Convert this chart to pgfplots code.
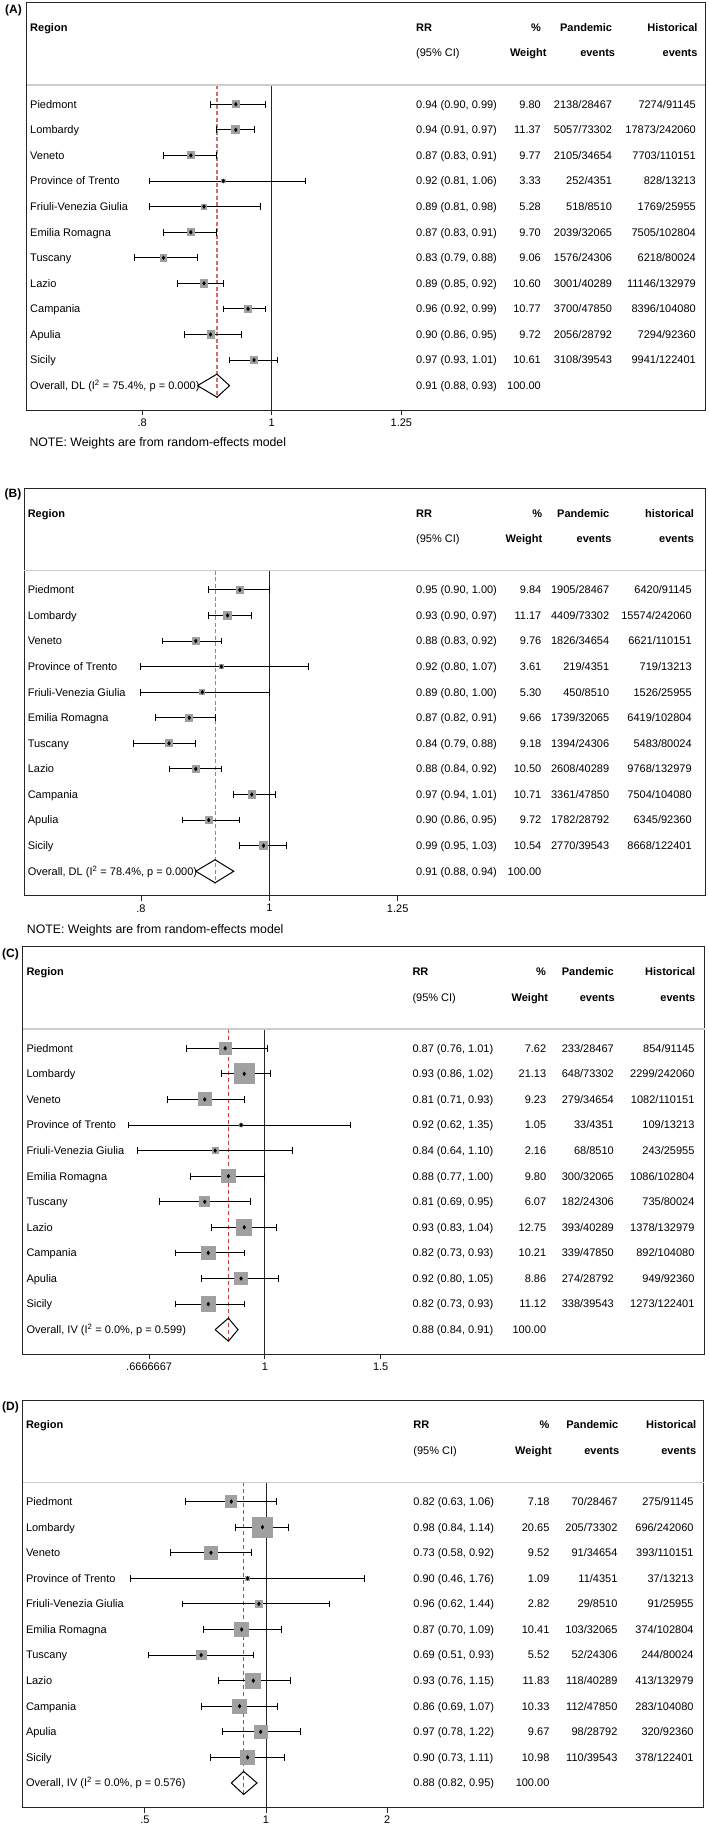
\documentclass[border=0pt]{standalone}
\usepackage{fontspec}
\setmainfont{Liberation Sans}
\usepackage{pgfplots}
\usepackage{pgfplotstable}
\pgfplotsset{compat=1.18}

\definecolor{refred}{RGB}{205,110,110}
\definecolor{refred2}{RGB}{205,60,60}
\definecolor{boxgray}{RGB}{160,160,160}
\newcommand{\tf}{\fontsize{11}{13}\selectfont}

% one table per panel: row, RR, 95% CI, weight, pandemic and historical events
\pgfplotstableread[col sep=semicolon]{
row;region;rr;lo;hi;ci;w;pan;his
1;Piedmont;0.94;0.90;0.99;0.94 (0.90, 0.99);9.80;2138/28467;7274/91145
2;Lombardy;0.94;0.91;0.97;0.94 (0.91, 0.97);11.37;5057/73302;17873/242060
3;Veneto;0.87;0.83;0.91;0.87 (0.83, 0.91);9.77;2105/34654;7703/110151
4;Province of Trento;0.92;0.81;1.06;0.92 (0.81, 1.06);3.33;252/4351;828/13213
5;Friuli-Venezia Giulia;0.89;0.81;0.98;0.89 (0.81, 0.98);5.28;518/8510;1769/25955
6;Emilia Romagna;0.87;0.83;0.91;0.87 (0.83, 0.91);9.70;2039/32065;7505/102804
7;Tuscany;0.83;0.79;0.88;0.83 (0.79, 0.88);9.06;1576/24306;6218/80024
8;Lazio;0.89;0.85;0.92;0.89 (0.85, 0.92);10.60;3001/40289;11146/132979
9;Campania;0.96;0.92;0.99;0.96 (0.92, 0.99);10.77;3700/47850;8396/104080
10;Apulia;0.90;0.86;0.95;0.90 (0.86, 0.95);9.72;2056/28792;7294/92360
11;Sicily;0.97;0.93;1.01;0.97 (0.93, 1.01);10.61;3108/39543;9941/122401
}\tabA

\pgfplotstableread[col sep=semicolon]{
row;region;rr;lo;hi;ci;w;pan;his
1;Piedmont;0.95;0.90;1.00;0.95 (0.90, 1.00);9.84;1905/28467;6420/91145
2;Lombardy;0.93;0.90;0.97;0.93 (0.90, 0.97);11.17;4409/73302;15574/242060
3;Veneto;0.88;0.83;0.92;0.88 (0.83, 0.92);9.76;1826/34654;6621/110151
4;Province of Trento;0.92;0.80;1.07;0.92 (0.80, 1.07);3.61;219/4351;719/13213
5;Friuli-Venezia Giulia;0.89;0.80;1.00;0.89 (0.80, 1.00);5.30;450/8510;1526/25955
6;Emilia Romagna;0.87;0.82;0.91;0.87 (0.82, 0.91);9.66;1739/32065;6419/102804
7;Tuscany;0.84;0.79;0.88;0.84 (0.79, 0.88);9.18;1394/24306;5483/80024
8;Lazio;0.88;0.84;0.92;0.88 (0.84, 0.92);10.50;2608/40289;9768/132979
9;Campania;0.97;0.94;1.01;0.97 (0.94, 1.01);10.71;3361/47850;7504/104080
10;Apulia;0.90;0.86;0.95;0.90 (0.86, 0.95);9.72;1782/28792;6345/92360
11;Sicily;0.99;0.95;1.03;0.99 (0.95, 1.03);10.54;2770/39543;8668/122401
}\tabB

\pgfplotstableread[col sep=semicolon]{
row;region;rr;lo;hi;ci;w;pan;his
1;Piedmont;0.87;0.76;1.01;0.87 (0.76, 1.01);7.62;233/28467;854/91145
2;Lombardy;0.93;0.86;1.02;0.93 (0.86, 1.02);21.13;648/73302;2299/242060
3;Veneto;0.81;0.71;0.93;0.81 (0.71, 0.93);9.23;279/34654;1082/110151
4;Province of Trento;0.92;0.62;1.35;0.92 (0.62, 1.35);1.05;33/4351;109/13213
5;Friuli-Venezia Giulia;0.84;0.64;1.10;0.84 (0.64, 1.10);2.16;68/8510;243/25955
6;Emilia Romagna;0.88;0.77;1.00;0.88 (0.77, 1.00);9.80;300/32065;1086/102804
7;Tuscany;0.81;0.69;0.95;0.81 (0.69, 0.95);6.07;182/24306;735/80024
8;Lazio;0.93;0.83;1.04;0.93 (0.83, 1.04);12.75;393/40289;1378/132979
9;Campania;0.82;0.73;0.93;0.82 (0.73, 0.93);10.21;339/47850;892/104080
10;Apulia;0.92;0.80;1.05;0.92 (0.80, 1.05);8.86;274/28792;949/92360
11;Sicily;0.82;0.73;0.93;0.82 (0.73, 0.93);11.12;338/39543;1273/122401
}\tabC

\pgfplotstableread[col sep=semicolon]{
row;region;rr;lo;hi;ci;w;pan;his
1;Piedmont;0.82;0.63;1.06;0.82 (0.63, 1.06);7.18;70/28467;275/91145
2;Lombardy;0.98;0.84;1.14;0.98 (0.84, 1.14);20.65;205/73302;696/242060
3;Veneto;0.73;0.58;0.92;0.73 (0.58, 0.92);9.52;91/34654;393/110151
4;Province of Trento;0.90;0.46;1.76;0.90 (0.46, 1.76);1.09;11/4351;37/13213
5;Friuli-Venezia Giulia;0.96;0.62;1.44;0.96 (0.62, 1.44);2.82;29/8510;91/25955
6;Emilia Romagna;0.87;0.70;1.09;0.87 (0.70, 1.09);10.41;103/32065;374/102804
7;Tuscany;0.69;0.51;0.93;0.69 (0.51, 0.93);5.52;52/24306;244/80024
8;Lazio;0.93;0.76;1.15;0.93 (0.76, 1.15);11.83;118/40289;413/132979
9;Campania;0.86;0.69;1.07;0.86 (0.69, 1.07);10.33;112/47850;283/104080
10;Apulia;0.97;0.78;1.22;0.97 (0.78, 1.22);9.67;98/28792;320/92360
11;Sicily;0.90;0.73;1.11;0.90 (0.73, 1.11);10.98;110/39543;378/122401
}\tabD

\pgfplotsset{
  pframe/.style={scale only axis, anchor=north west, height=407.5pt,
    ymin=-2.97, ymax=12.96, y dir=reverse},
  dataax/.style={pframe, ytick=\empty, xtick pos=left,
    tick align=outside, major tick length=5pt,
    axis line style={line width=0.9pt, black!85},
    tick style={line width=0.9pt, black!85},
    xticklabel style={font=\tf}, clip=false},
  txtax/.style={pframe, hide axis, clip=false},
  txtcol/.style={draw=none, nodes near coords, point meta=explicit symbolic,
    every node near coord/.append style={anchor=base #1, yshift=-3.9pt,
      inner sep=0pt, font=\tf, text=black}},
  cibar/.style={only marks, mark=none, black,
    error bars/.cd, x dir=both, x explicit, error mark=none,
    error bar style={line width=1pt, black}},
  cicap/.style={only marks, mark=|, mark size=3.4pt, black,
    mark options={line width=1pt}},
  % weight boxes: side grows with the square root of the weight
  wbox/.style={draw=none, mark=none, point meta=y, nodes near coords={},
    visualization depends on={#1*sqrt(\thisrow{w}) \as \boxside},
    every node near coord/.append style={anchor=center, inner sep=0pt,
      outer sep=0pt, minimum size=\boxside, fill=boxgray, draw=none}},
  cdot/.style={only marks, mark=diamond*, mark size=1.9pt, black},
}
\tikzset{
  hl/.style={anchor=base west, yshift=-3.9pt, inner sep=0pt, font=\tf},
  hr/.style={anchor=base east, yshift=-3.9pt, inner sep=0pt, font=\tf},
  plab/.style={anchor=base west, inner sep=0pt, font=\fontsize{12}{14}\selectfont\bfseries},
  note/.style={anchor=base west, inner sep=0pt, font=\fontsize{12.3}{14}\selectfont},
}

\begin{document}
\begin{tikzpicture}
\useasboundingbox (0,0) rectangle (709pt,-1828pt);

% ---------------- (A) ----------------
\begin{axis}[xmode=log, dataax, at={(26.7pt,-2.7pt)}, width=678.3pt, xmin=0.6559, xmax=2.108,
  xtick={0.8,1,1.25}, xticklabels={.8,1,1.25}]
\addplot[black!85, line width=0.9pt] coordinates {(1,0.25) (1,12.96)};
\addplot[refred, line width=1.1pt, dash pattern=on 4pt off 2.5pt] coordinates {(0.91,0.25) (0.91,12.45)};
\addplot[cibar] table[x=rr, y=row, x error plus expr=\thisrow{hi}-\thisrow{rr}, x error minus expr=\thisrow{rr}-\thisrow{lo}] {\tabA};
\addplot[cicap] table[x=lo, y=row] {\tabA};
\addplot[cicap] table[x=hi, y=row] {\tabA};
\addplot[wbox=2.58] table[x=rr, y=row] {\tabA};
\addplot[cdot] table[x=rr, y=row] {\tabA};
\addplot[black, line width=1pt] coordinates {(0.88,12) (0.91,11.55) (0.93,12) (0.91,12.45) (0.88,12)};
\end{axis}
\begin{axis}[txtax, at={(26.7pt,-2.7pt)}, width=678.3pt, xmin=26.7, xmax=705]
\addplot[black!20, line width=1.4pt] coordinates {(26.7,0.25) (705,0.25)};
\addplot[txtcol=west] table[x expr=30, y=row, meta=region] {\tabA};
\addplot[txtcol=west] table[x expr=416, y=row, meta=ci] {\tabA};
\addplot[txtcol=east] table[x expr=541, y=row, meta=w] {\tabA};
\addplot[txtcol=east] table[x expr=612.3, y=row, meta=pan] {\tabA};
\addplot[txtcol=east] table[x expr=696, y=row, meta=his] {\tabA};
\node[hl] at (axis cs:30,-2) {\bfseries Region};
\node[hl] at (axis cs:416,-2) {\bfseries RR};
\node[hl] at (axis cs:416,-1) {(95\% CI)};
\node[hr] at (axis cs:541,-2) {\bfseries \%};
\node[hr] at (axis cs:546.7,-1) {\bfseries Weight};
\node[hr] at (axis cs:612.3,-2) {\bfseries Pandemic};
\node[hr] at (axis cs:615.3,-1) {\bfseries events};
\node[hr] at (axis cs:697.7,-2) {\bfseries Historical};
\node[hr] at (axis cs:697.7,-1) {\bfseries events};
\node[hl] at (axis cs:30,12) {Overall, DL (I\textsuperscript{2} = 75.4\%, p = 0.000)};
\node[hl] at (axis cs:416,12) {0.91 (0.88, 0.93)};
\node[hr] at (axis cs:541,12) {100.00};
\end{axis}
\node[plab] at (5pt,-13.3pt) {(A)};
\node[note] at (29.3pt,-446.7pt) {NOTE: Weights are from random-effects model};

% ---------------- (B) ----------------
\begin{axis}[xmode=log, dataax, at={(24pt,-488.3pt)}, width=681.4pt, xmin=0.6528, xmax=2.1345,
  xtick={0.8,1,1.25}, xticklabels={.8,1,1.25}]
\addplot[black!85, line width=0.9pt] coordinates {(1,0.25) (1,12.96)};
\addplot[refred, line width=1.1pt, dash pattern=on 4pt off 2.5pt] coordinates {(0.91,0.25) (0.91,12.45)};
\addplot[cibar] table[x=rr, y=row, x error plus expr=\thisrow{hi}-\thisrow{rr}, x error minus expr=\thisrow{rr}-\thisrow{lo}] {\tabB};
\addplot[cicap] table[x=lo, y=row] {\tabB};
\addplot[cicap] table[x=hi, y=row] {\tabB};
\addplot[wbox=2.58] table[x=rr, y=row] {\tabB};
\addplot[cdot] table[x=rr, y=row] {\tabB};
\addplot[black, line width=1pt] coordinates {(0.88,12) (0.91,11.55) (0.94,12) (0.91,12.45) (0.88,12)};
\end{axis}
\begin{axis}[txtax, at={(24pt,-488.3pt)}, width=681.4pt, xmin=24, xmax=705.4]
\addplot[black!20, line width=1.4pt] coordinates {(24,0.25) (705.4,0.25)};
\addplot[txtcol=west] table[x expr=27.6, y=row, meta=region] {\tabB};
\addplot[txtcol=west] table[x expr=416, y=row, meta=ci] {\tabB};
\addplot[txtcol=east] table[x expr=541.5, y=row, meta=w] {\tabB};
\addplot[txtcol=east] table[x expr=609.4, y=row, meta=pan] {\tabB};
\addplot[txtcol=east] table[x expr=691.9, y=row, meta=his] {\tabB};
\node[hl] at (axis cs:27.6,-2) {\bfseries Region};
\node[hl] at (axis cs:416,-2) {\bfseries RR};
\node[hl] at (axis cs:416,-1) {(95\% CI)};
\node[hr] at (axis cs:542.4,-2) {\bfseries \%};
\node[hr] at (axis cs:542.4,-1) {\bfseries Weight};
\node[hr] at (axis cs:609.4,-2) {\bfseries Pandemic};
\node[hr] at (axis cs:611.7,-1) {\bfseries events};
\node[hr] at (axis cs:694.2,-2) {\bfseries historical};
\node[hr] at (axis cs:694.2,-1) {\bfseries events};
\node[hl] at (axis cs:27.6,12) {Overall, DL (I\textsuperscript{2} = 78.4\%, p = 0.000)};
\node[hl] at (axis cs:416,12) {0.91 (0.88, 0.94)};
\node[hr] at (axis cs:541.5,12) {100.00};
\end{axis}
\node[plab] at (4.5pt,-497.6pt) {(B)};
\node[note] at (26.7pt,-933.4pt) {NOTE: Weights are from random-effects model};

% ---------------- (C) ----------------
\begin{axis}[xmode=log, dataax, at={(22.7pt,-946.7pt)}, width=681.8pt, xmin=0.428, xmax=4.665,
  xtick={0.6666667,1,1.5}, xticklabels={.6666667,1,1.5}]
\addplot[black!85, line width=0.9pt] coordinates {(1,0.25) (1,12.96)};
\addplot[refred2, line width=0.8pt, dash pattern=on 4pt off 3pt] coordinates {(0.88,0.25) (0.88,12.45)};
\addplot[cibar] table[x=rr, y=row, x error plus expr=\thisrow{hi}-\thisrow{rr}, x error minus expr=\thisrow{rr}-\thisrow{lo}] {\tabC};
\addplot[cicap] table[x=lo, y=row] {\tabC};
\addplot[cicap] table[x=hi, y=row] {\tabC};
\addplot[wbox=4.6] table[x=rr, y=row] {\tabC};
\addplot[cdot] table[x=rr, y=row] {\tabC};
\addplot[black, line width=1pt] coordinates {(0.84,12) (0.88,11.55) (0.91,12) (0.88,12.45) (0.84,12)};
\end{axis}
\begin{axis}[txtax, at={(22.7pt,-946.7pt)}, width=681.8pt, xmin=22.7, xmax=704.5]
\addplot[black!20, line width=1.4pt] coordinates {(22.7,0.25) (704.5,0.25)};
\addplot[txtcol=west] table[x expr=26.3, y=row, meta=region] {\tabC};
\addplot[txtcol=west] table[x expr=412.3, y=row, meta=ci] {\tabC};
\addplot[txtcol=east] table[x expr=546.4, y=row, meta=w] {\tabC};
\addplot[txtcol=east] table[x expr=614, y=row, meta=pan] {\tabC};
\addplot[txtcol=east] table[x expr=694.6, y=row, meta=his] {\tabC};
\node[hl] at (axis cs:26.3,-2) {\bfseries Region};
\node[hl] at (axis cs:412.3,-2) {\bfseries RR};
\node[hl] at (axis cs:412.3,-1) {(95\% CI)};
\node[hr] at (axis cs:546,-2) {\bfseries \%};
\node[hr] at (axis cs:548.3,-1) {\bfseries Weight};
\node[hr] at (axis cs:614,-2) {\bfseries Pandemic};
\node[hr] at (axis cs:614.9,-1) {\bfseries events};
\node[hr] at (axis cs:695.5,-2) {\bfseries Historical};
\node[hr] at (axis cs:695.5,-1) {\bfseries events};
\node[hl] at (axis cs:26.3,12) {Overall, IV (I\textsuperscript{2} = 0.0\%, p = 0.599)};
\node[hl] at (axis cs:412.3,12) {0.88 (0.84, 0.91)};
\node[hr] at (axis cs:546.4,12) {100.00};
\end{axis}
\node[plab] at (2pt,-957pt) {(C)};

% ---------------- (D) ----------------
\begin{axis}[xmode=log, dataax, at={(22.7pt,-1400pt)}, width=681pt, xmin=0.2486, xmax=12.23,
  xtick={0.5,1,2}, xticklabels={.5,1,2}]
\addplot[black!85, line width=0.9pt] coordinates {(1,0.25) (1,12.96)};
\addplot[refred2, line width=0.8pt, dash pattern=on 4pt off 3pt] coordinates {(0.88,0.25) (0.88,12.45)};
\addplot[cibar] table[x=rr, y=row, x error plus expr=\thisrow{hi}-\thisrow{rr}, x error minus expr=\thisrow{rr}-\thisrow{lo}] {\tabD};
\addplot[cicap] table[x=lo, y=row] {\tabD};
\addplot[cicap] table[x=hi, y=row] {\tabD};
\addplot[wbox=4.6] table[x=rr, y=row] {\tabD};
\addplot[cdot] table[x=rr, y=row] {\tabD};
\addplot[black, line width=1pt] coordinates {(0.82,12) (0.88,11.55) (0.95,12) (0.88,12.45) (0.82,12)};
\end{axis}
\begin{axis}[txtax, at={(22.7pt,-1400pt)}, width=681pt, xmin=22.7, xmax=703.7]
\addplot[black!20, line width=1.4pt] coordinates {(22.7,0.25) (703.7,0.25)};
\addplot[txtcol=west] table[x expr=25.8, y=row, meta=region] {\tabD};
\addplot[txtcol=west] table[x expr=413.2, y=row, meta=ci] {\tabD};
\addplot[txtcol=east] table[x expr=549.6, y=row, meta=w] {\tabD};
\addplot[txtcol=east] table[x expr=617.6, y=row, meta=pan] {\tabD};
\addplot[txtcol=east] table[x expr=693.7, y=row, meta=his] {\tabD};
\node[hl] at (axis cs:25.8,-2) {\bfseries Region};
\node[hl] at (axis cs:413.2,-2) {\bfseries RR};
\node[hl] at (axis cs:413.2,-1) {(95\% CI)};
\node[hr] at (axis cs:549.6,-2) {\bfseries \%};
\node[hr] at (axis cs:551.9,-1) {\bfseries Weight};
\node[hr] at (axis cs:618.5,-2) {\bfseries Pandemic};
\node[hr] at (axis cs:619.4,-1) {\bfseries events};
\node[hr] at (axis cs:696.4,-2) {\bfseries Historical};
\node[hr] at (axis cs:696.4,-1) {\bfseries events};
\node[hl] at (axis cs:25.8,12) {Overall, IV (I\textsuperscript{2} = 0.0\%, p = 0.576)};
\node[hl] at (axis cs:413.2,12) {0.88 (0.82, 0.95)};
\node[hr] at (axis cs:549.6,12) {100.00};
\end{axis}
\node[plab] at (2pt,-1410pt) {(D)};
\end{tikzpicture}
\end{document}
